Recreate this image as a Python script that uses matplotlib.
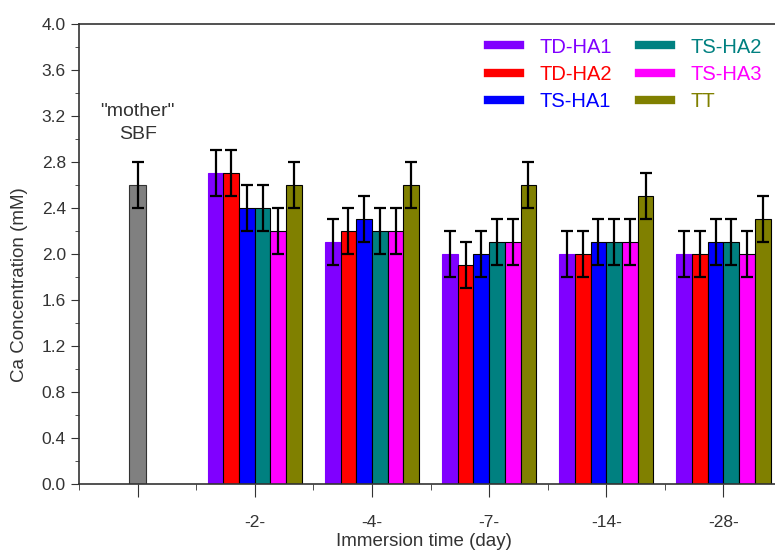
import numpy as np
import matplotlib.pyplot as plt
from matplotlib.ticker import MultipleLocator

plt.rcParams['font.family'] = ['Liberation Sans', 'DejaVu Sans']

# data
days = ['-2-', '-4-', '-7-', '-14-', '-28-']
series = ['TD-HA1', 'TD-HA2', 'TS-HA1', 'TS-HA2', 'TS-HA3', 'TT']
colors = ['#8000ff', '#ff0000', '#0000ff', '#008080', '#ff00ff', '#808000']
values = [
    [2.7, 2.1, 2.0, 2.0, 2.0],   # TD-HA1
    [2.7, 2.2, 1.9, 2.0, 2.0],   # TD-HA2
    [2.4, 2.3, 2.0, 2.1, 2.1],   # TS-HA1
    [2.4, 2.2, 2.1, 2.1, 2.1],   # TS-HA2
    [2.2, 2.2, 2.1, 2.1, 2.0],   # TS-HA3
    [2.6, 2.6, 2.6, 2.5, 2.3],   # TT
]
errors = [
    [0.2, 0.2, 0.2, 0.2, 0.2],
    [0.2, 0.2, 0.2, 0.2, 0.2],
    [0.2, 0.2, 0.2, 0.2, 0.2],
    [0.2, 0.2, 0.2, 0.2, 0.2],
    [0.2, 0.2, 0.2, 0.2, 0.2],
    [0.2, 0.2, 0.2, 0.2, 0.2],
]
mother_val = 2.6
mother_err = 0.2

fig = plt.figure(figsize=(7.75, 5.5), dpi=100)
ax = fig.add_axes([0.102, 0.12, 0.898, 0.8364])

w = 0.134
x = np.arange(2, 2 + len(days))
ekw = dict(ecolor='black', elinewidth=1.6, capsize=4.5, capthick=1.6)

ax.bar(1, mother_val, 0.15, yerr=mother_err, color='#808080',
       edgecolor='#333333', linewidth=0.8, error_kw=ekw)

for i, (name, c) in enumerate(zip(series, colors)):
    off = (i - 2.5) * w
    ec = c if i == 0 else 'black'
    ax.bar(x + off, values[i], w, yerr=errors[i], color=c, edgecolor=ec,
           linewidth=0.8, error_kw=ekw, label=name)

ax.text(1, 3.14, '"mother"\nSBF', ha='center', va='center', fontsize=14,
        color='#333333', linespacing=1.45)

ax.set_xlim(0.5, 6.44)
ax.set_ylim(0, 4.0)
ax.set_xticks([1] + list(x))
ax.set_xticklabels([''] + days)
ax.xaxis.set_minor_locator(MultipleLocator(0.5))
ax.yaxis.set_major_locator(MultipleLocator(0.4))
ax.yaxis.set_minor_locator(MultipleLocator(0.2))
ax.yaxis.set_major_formatter(plt.FormatStrFormatter('%.1f'))
ax.tick_params(which='both', direction='out', colors='#333333', labelsize=12.5)
ax.tick_params(axis='x', which='major', length=9, pad=13)
ax.tick_params(axis='x', which='minor', length=4)
ax.tick_params(axis='y', which='major', length=6)
ax.tick_params(axis='y', which='minor', length=3)
ax.spines['right'].set_visible(False)
for s in ['left', 'bottom', 'top']:
    ax.spines[s].set_color('#333333')
    ax.spines[s].set_linewidth(1.2)

ax.set_xlabel('Immersion time (day)', fontsize=13.5, color='#333333')
ax.set_ylabel('Ca Concentration (mM)', fontsize=13.5, color='#333333')
ax.xaxis.set_label_coords(0.495, -0.106)
ax.yaxis.set_label_coords(-0.073, 0.433)

handles = [plt.Line2D([0], [0], color=c, lw=6) for c in colors]
leg = ax.legend(handles, series, ncol=2, loc='upper right',
                bbox_to_anchor=(1.008, 1.01), frameon=False, fontsize=14.5,
                handlelength=1.6, handletextpad=1.0, columnspacing=1.3,
                labelspacing=0.42)
for t, c in zip(leg.get_texts(), colors):
    t.set_color(c)

fig.savefig('out.png', dpi=100)
